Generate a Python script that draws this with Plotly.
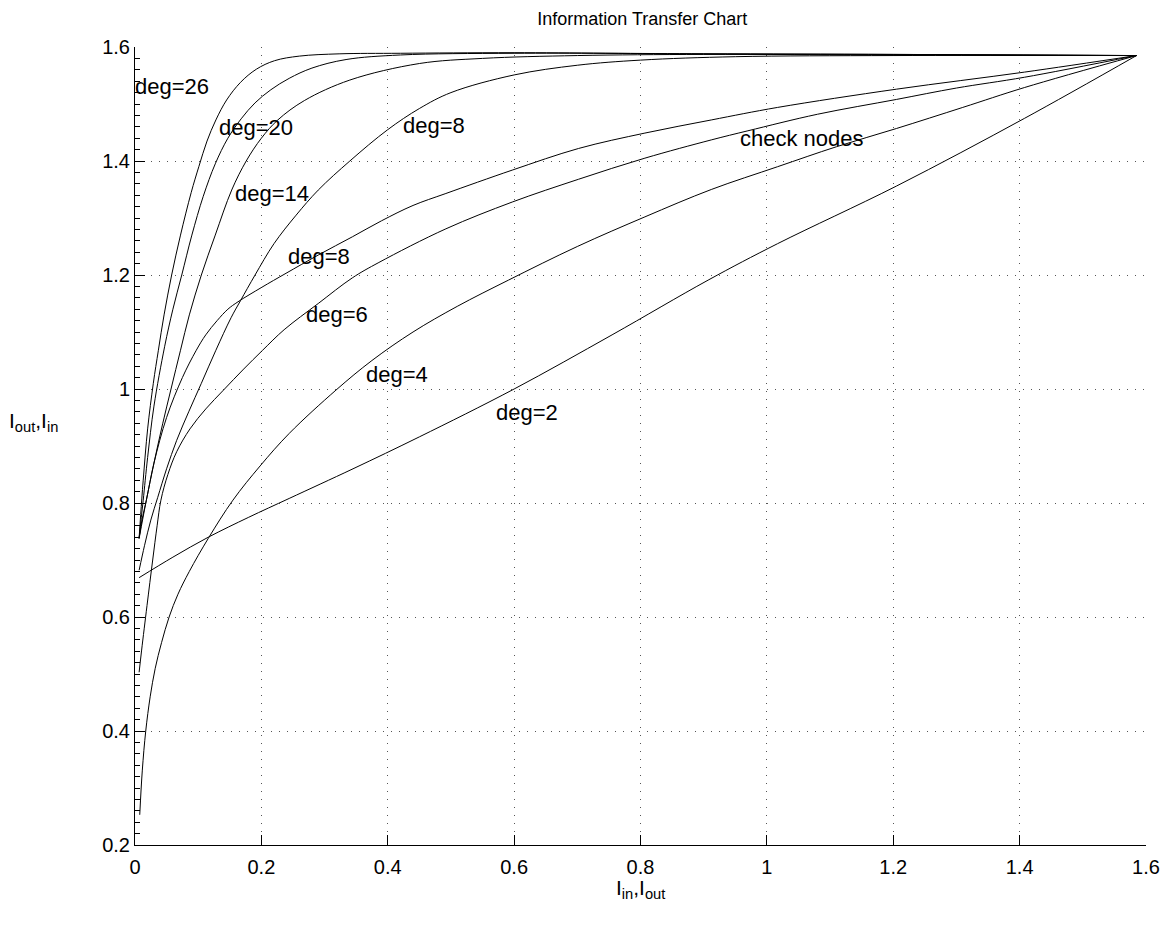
import plotly.graph_objects as go

# ---- data ----
deg26_x = [0.0065, 0.009, 0.013, 0.02, 0.029, 0.037, 0.046, 0.058, 0.072, 0.089, 0.101, 0.114, 0.128, 0.145, 0.167, 0.192, 0.221, 0.26, 0.323, 0.42, 0.6, 0.9, 1.2, 1.585]
deg26_y = [0.738, 0.78, 0.84, 0.93, 1.01, 1.068, 1.13, 1.20, 1.27, 1.345, 1.39, 1.435, 1.472, 1.507, 1.538, 1.561, 1.576, 1.584, 1.588, 1.589, 1.590, 1.588, 1.587, 1.585]

deg20_x = [0.0065, 0.010, 0.013, 0.02, 0.03, 0.047, 0.06, 0.074, 0.09, 0.108, 0.127, 0.147, 0.168, 0.19, 0.215, 0.244, 0.28, 0.334, 0.42, 0.6, 0.9, 1.2, 1.585]
deg20_y = [0.738, 0.775, 0.805, 0.88, 0.97, 1.075, 1.14, 1.20, 1.27, 1.338, 1.395, 1.44, 1.474, 1.502, 1.525, 1.545, 1.563, 1.578, 1.586, 1.589, 1.588, 1.587, 1.585]

deg14_x = [0.0065, 0.018, 0.03, 0.044, 0.057, 0.072, 0.086, 0.105, 0.127, 0.153, 0.176, 0.20, 0.226, 0.268, 0.34, 0.45, 0.55, 0.70, 0.90, 1.2, 1.585]
deg14_y = [0.738, 0.805, 0.87, 0.94, 1.0, 1.068, 1.13, 1.20, 1.27, 1.349, 1.40, 1.44, 1.472, 1.506, 1.542, 1.571, 1.580, 1.585, 1.587, 1.586, 1.585]

deg8u_x = [0.0065, 0.015, 0.025, 0.036, 0.05, 0.066, 0.085, 0.105, 0.128, 0.152, 0.167, 0.19, 0.22, 0.255, 0.29, 0.34, 0.40, 0.45, 0.50, 0.60, 0.70, 0.80, 0.95, 1.2, 1.585]
deg8u_y = [0.682, 0.725, 0.77, 0.81, 0.86, 0.91, 0.96, 1.01, 1.068, 1.125, 1.155, 1.20, 1.255, 1.305, 1.349, 1.40, 1.455, 1.492, 1.52, 1.551, 1.568, 1.577, 1.583, 1.585, 1.585]

deg8l_x = [0.0065, 0.011, 0.018, 0.03, 0.05, 0.075, 0.097, 0.112, 0.13, 0.147, 0.163, 0.20, 0.239, 0.29, 0.344, 0.39, 0.44, 0.492, 0.597, 0.702, 0.807, 0.912, 1.017, 1.205, 1.408, 1.585]
deg8l_y = [0.738, 0.77, 0.805, 0.87, 0.95, 1.02, 1.068, 1.095, 1.12, 1.14, 1.153, 1.178, 1.203, 1.235, 1.267, 1.295, 1.322, 1.343, 1.384, 1.422, 1.449, 1.472, 1.494, 1.526, 1.556, 1.585]

deg6_x = [0.0065, 0.0105, 0.019, 0.028, 0.035, 0.041, 0.052, 0.066, 0.087, 0.112, 0.14, 0.172, 0.202, 0.236, 0.29, 0.344, 0.386, 0.492, 0.597, 0.702, 0.807, 0.912, 0.97, 1.08, 1.205, 1.30, 1.408, 1.585]
deg6_y = [0.503, 0.542, 0.62, 0.70, 0.76, 0.805, 0.85, 0.89, 0.93, 0.965, 0.998, 1.035, 1.068, 1.104, 1.15, 1.195, 1.222, 1.281, 1.328, 1.368, 1.405, 1.437, 1.453, 1.482, 1.508, 1.528, 1.547, 1.585]

deg4_x = [0.0075, 0.0115, 0.017, 0.024, 0.032, 0.042, 0.054, 0.068, 0.086, 0.116, 0.155, 0.198, 0.244, 0.318, 0.375, 0.44, 0.51, 0.591, 0.70, 0.807, 0.912, 1.017, 1.11, 1.205, 1.31, 1.408, 1.585]
deg4_y = [0.253, 0.33, 0.40, 0.46, 0.51, 0.555, 0.60, 0.64, 0.68, 0.738, 0.805, 0.865, 0.922, 0.998, 1.05, 1.10, 1.145, 1.191, 1.25, 1.302, 1.35, 1.39, 1.425, 1.457, 1.494, 1.529, 1.585]

deg2_x = [0.0065, 0.06, 0.116, 0.18, 0.244, 0.345, 0.45, 0.60, 0.755, 0.907, 1.017, 1.205, 1.408, 1.585]
deg2_y = [0.669, 0.705, 0.74, 0.775, 0.808, 0.86, 0.916, 1.0, 1.095, 1.191, 1.255, 1.356, 1.475, 1.585]

curves = [(deg26_x, deg26_y), (deg20_x, deg20_y), (deg14_x, deg14_y), (deg8u_x, deg8u_y),
          (deg8l_x, deg8l_y), (deg6_x, deg6_y), (deg4_x, deg4_y), (deg2_x, deg2_y)]

label_text = ["deg=26", "deg=20", "deg=14", "deg=8", "deg=8", "deg=6", "deg=4", "deg=2", "check nodes"]
label_x = [0.0, 0.129, 0.155, 0.421, 0.239, 0.268, 0.363, 0.568, 0.954]
label_y = [1.530, 1.458, 1.343, 1.463, 1.232, 1.130, 1.025, 0.958, 1.440]

x_ticks = [0, 0.2, 0.4, 0.6, 0.8, 1, 1.2, 1.4, 1.6]
y_ticks = [0.2, 0.4, 0.6, 0.8, 1, 1.2, 1.4, 1.6]

FONT = "Liberation Sans, Arial, Helvetica, sans-serif"

fig = go.Figure()
for cx, cy in curves:
    fig.add_trace(go.Scatter(x=cx, y=cy, mode="lines",
                             line=dict(color="black", width=1, shape="spline", smoothing=1.0),
                             showlegend=False, hoverinfo="skip"))

for t, lx, ly in zip(label_text, label_x, label_y):
    fig.add_annotation(x=lx, y=ly, text=t, showarrow=False, xanchor="left", yanchor="middle",
                       xshift=-2 if lx == 0.0 else 0,
                       font=dict(family=FONT, size=22, color="black"))

fig.add_annotation(xref="paper", yref="paper", x=0.5, y=-0.036, text="I<sub>in</sub>,I<sub>out</sub>",
                   showarrow=False, xanchor="center", yanchor="top",
                   font=dict(family=FONT, size=21, color="black"))
fig.add_annotation(xref="paper", yref="paper", x=-0.127, y=0.530, text="I<sub>out</sub>,I<sub>in</sub>",
                   showarrow=False, xanchor="left", yanchor="middle",
                   font=dict(family=FONT, size=21, color="black"))

axis_common = dict(showline=True, linecolor="black", linewidth=1, mirror=False,
                   ticks="inside", ticklen=10, tickcolor="black", tickwidth=1,
                   showgrid=True, gridcolor="#555555", gridwidth=1, griddash="1px,7px",
                   zeroline=False, tickfont=dict(family=FONT, size=20, color="black"))

fig.update_layout(
    width=1172, height=929,
    margin=dict(l=135, r=22, t=47, b=84),
    paper_bgcolor="white", plot_bgcolor="white",
    title=dict(text="Information Transfer Chart", x=0.548, xanchor="center", y=0.98, yanchor="middle",
               font=dict(family=FONT, size=18, color="black")),
    xaxis=dict(range=[0, 1.6], tickvals=x_ticks, ticklabelstandoff=4, **axis_common),
    yaxis=dict(range=[0.2, 1.6], tickvals=y_ticks,
               minor=dict(dtick=0.02, ticks="inside", ticklen=5, tickcolor="black", showgrid=False),
               **axis_common),
)

fig.write_html("out.html")
